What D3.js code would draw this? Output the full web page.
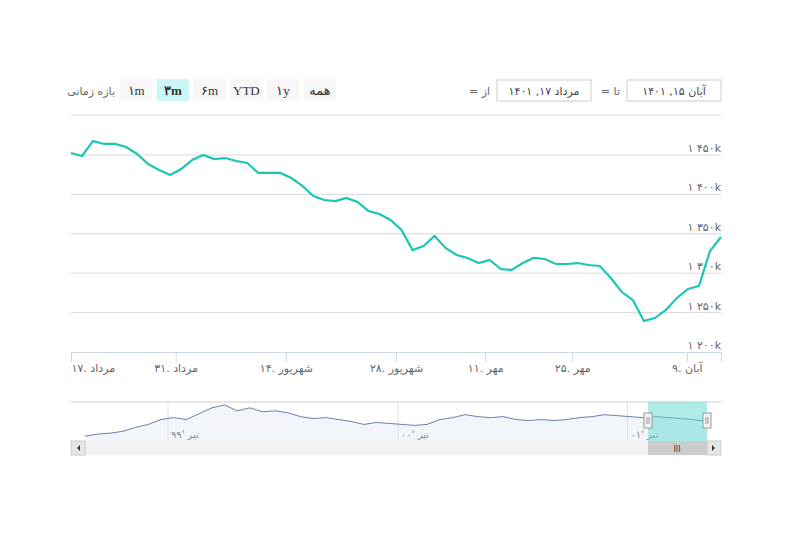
<!DOCTYPE html>
<html><head><meta charset="utf-8">
<script src="https://cdn.jsdelivr.net/npm/d3@7"></script>
<style>body{margin:0;background:#fff}text{font-family:"DejaVu Sans",sans-serif}</style>
</head><body><svg id="c" width="790" height="556"></svg>
<script>
const prices=[1452.5,1448.7,1467.8,1464,1464,1460.2,1451.3,1438.6,1431,1424.6,1432.2,1443.7,1450,1444.9,1446.2,1442.4,1439.8,1427.2,1427.2,1427.2,1420.8,1410.7,1398,1392.9,1391.6,1395.4,1390.4,1379,1375.1,1367.5,1354.8,1329.4,1334.5,1347.2,1332,1323.1,1319.3,1312.9,1316.8,1305.3,1304.1,1312.9,1319.3,1318,1311.7,1311.7,1312.9,1310.4,1309.1,1293.9,1276.1,1266,1239.3,1243.1,1253.3,1268.5,1280,1283.8,1328.2,1345.9];
const xTickPos=[0,9.5,19.5,29.5,37.6,45.5,55.9];
const xTickLabels=["۱۷. مرداد","۳۱. مرداد","۱۴. شهریور","۲۸. شهریور","۱۱. مهر","۲۵. مهر","۹. آبان"];
const yTicks=[1200,1250,1300,1350,1400,1450];
const yTickLabels=["۱ ۲۰۰k","۱ ۲۵۰k","۱ ۳۰۰k","۱ ۳۵۰k","۱ ۴۰۰k","۱ ۴۵۰k"];
const navValues=[1075,1125,1150,1200,1300,1375,1500,1550,1500,1650,1800,1875,1725,1800,1700,1725,1675,1575,1525,1550,1500,1450,1375,1425,1400,1375,1350,1375,1500,1550,1625,1575,1550,1575,1500,1475,1500,1475,1500,1550,1575,1625,1600,1575,1550,1575,1550,1525,1500,1450];
const navTickPos=[6.55,24.7,42.8];
const navTickLabels=["تیر '۹۹","تیر '۰۰","تیر '۰۱"];
const buttons=["همه","۱y","YTD","۶m","۳m","۱m"];

const svg=d3.select("#c");
const L=71,R=721,T=115,B=352;
const x=d3.scaleLinear().domain([0,prices.length-1]).range([L,R]);
const y=d3.scaleLinear().domain([1200,1450]).range([B,155]);
svg.append("g").selectAll("line").data(yTicks.slice(1)).join("line")
 .attr("x1",L).attr("x2",R).attr("y1",d=>y(d)).attr("y2",d=>y(d)).attr("stroke","#d8d8d8");
svg.append("line").attr("x1",L).attr("x2",R).attr("y1",T).attr("y2",T).attr("stroke","#d8d8d8");
svg.append("g").selectAll("text").data(yTicks).join("text")
 .attr("x",R).attr("y",d=>y(d)-3).attr("text-anchor","end").attr("font-size",11).attr("fill","#666")
 .text((d,i)=>yTickLabels[i]);
const xa=svg.append("g").attr("transform",`translate(0,${B})`)
 .call(d3.axisBottom(x).tickValues(xTickPos).tickFormat((d,i)=>xTickLabels[i]).tickSize(10));
xa.select(".domain").attr("stroke","#ccd6eb");
xa.selectAll(".tick line").attr("stroke","#ccd6eb");
xa.selectAll(".tick text").attr("font-size",11).attr("fill","#666").attr("y",12).attr("direction","ltr")
 .attr("text-anchor",(d,i)=>i===0?"start":"middle").style("font-family","DejaVu Sans");
svg.append("path").datum(prices).attr("fill","none").attr("stroke","#1bc6b4").attr("stroke-width",2.2)
 .attr("d",d3.line().x((d,i)=>x(i)).y(d=>y(d)));
// navigator
const nT=402,nB=441;
const nx=d3.scaleLinear().domain([0,navValues.length-1]).range([85,706]);
const ny=d3.scaleLinear().domain([1000,1900]).range([439,404]);
svg.append("line").attr("x1",L).attr("x2",R).attr("y1",nT).attr("y2",nT).attr("stroke","#ccc");
svg.append("path").datum(navValues).attr("fill","#f2f6fa")
 .attr("d",d3.area().x((d,i)=>nx(i)).y0(nB).y1(d=>ny(d)));
svg.append("g").selectAll("g").data(navTickPos).join("g").each(function(d,i){
 const g=d3.select(this);
 g.append("line").attr("x1",nx(d)).attr("x2",nx(d)).attr("y1",nT).attr("y2",nB).attr("stroke","#e0e0e0");
 g.append("text").attr("x",nx(d)+3).attr("y",438).attr("font-size",10).attr("fill","#888").text(navTickLabels[i]);
});
svg.append("path").datum(navValues).attr("fill","none").attr("stroke","#6a80a8").attr("stroke-width",1)
 .attr("d",d3.line().x((d,i)=>nx(i)).y(d=>ny(d)));
svg.append("rect").attr("x",648).attr("y",nT).attr("width",59).attr("height",nB-nT).attr("fill","#5fd9d2").attr("opacity",0.5);
[648,707].forEach(h=>{svg.append("rect").attr("x",h-4).attr("y",413).attr("width",8).attr("height",15).attr("fill","#f2f2f2").attr("stroke","#999");
 svg.append("line").attr("x1",h-1).attr("x2",h-1).attr("y1",417).attr("y2",424).attr("stroke","#999");
 svg.append("line").attr("x1",h+1).attr("x2",h+1).attr("y1",417).attr("y2",424).attr("stroke","#999");});
svg.append("rect").attr("x",L).attr("y",nB).attr("width",R-L).attr("height",14).attr("fill","#f2f2f2");
svg.append("rect").attr("x",L).attr("y",nB).attr("width",14).attr("height",14).attr("fill","#e6e6e6").attr("stroke","#ccc");
svg.append("rect").attr("x",R-14).attr("y",nB).attr("width",14).attr("height",14).attr("fill","#e6e6e6").attr("stroke","#ccc");
svg.append("rect").attr("x",648).attr("y",nB).attr("width",59).attr("height",14).attr("fill","#ccc");
svg.append("text").attr("x",677).attr("y",452).attr("text-anchor","middle").attr("font-size",8).attr("fill","#333").text("III");
svg.append("path").attr("d",`M${L+9},${nB+4}l-3,3l3,3z`).attr("fill","#333");
svg.append("path").attr("d",`M${R-9},${nB+4}l3,3l-3,3z`).attr("fill","#333");
// range selector
const bx=d3.scaleBand().domain(buttons).range([336,120]).paddingInner(0.12);
buttons.forEach(b=>{
 const sel=b==="۳m";
 svg.append("rect").attr("x",bx(b)).attr("y",79).attr("width",bx.bandwidth()).attr("height",22).attr("fill",sel?"#ccf7f7":"#f7f7f7");
 svg.append("text").attr("x",bx(b)+bx.bandwidth()/2).attr("y",95).attr("text-anchor","middle").attr("font-size",13)
  .style("font-family",/[a-zA-Z]/.test(b)?"Liberation Serif":"DejaVu Sans")
  .attr("font-weight",sel?"bold":"normal").attr("fill","#333").text(b);
});
svg.append("text").attr("x",115).attr("y",95).attr("text-anchor","end").attr("font-size",11).attr("fill","#666").text("بازه زمانی");
[[497,"مرداد ۱۷, ۱۴۰۱"],[627,"آبان ۱۵, ۱۴۰۱"]].forEach(([bx0,t])=>{
 svg.append("rect").attr("x",bx0).attr("y",80).attr("width",94).attr("height",21).attr("fill","#fff").attr("stroke","#ccc");
 svg.append("text").attr("x",bx0+47).attr("y",95).attr("text-anchor","middle").attr("font-size",11).attr("fill","#444").text(t);
});
svg.append("text").attr("x",490).attr("y",95).attr("text-anchor","end").attr("font-size",11).attr("fill","#666").text("= از");
svg.append("text").attr("x",620).attr("y",95).attr("text-anchor","end").attr("font-size",11).attr("fill","#666").text("= تا");
</script></body></html>
